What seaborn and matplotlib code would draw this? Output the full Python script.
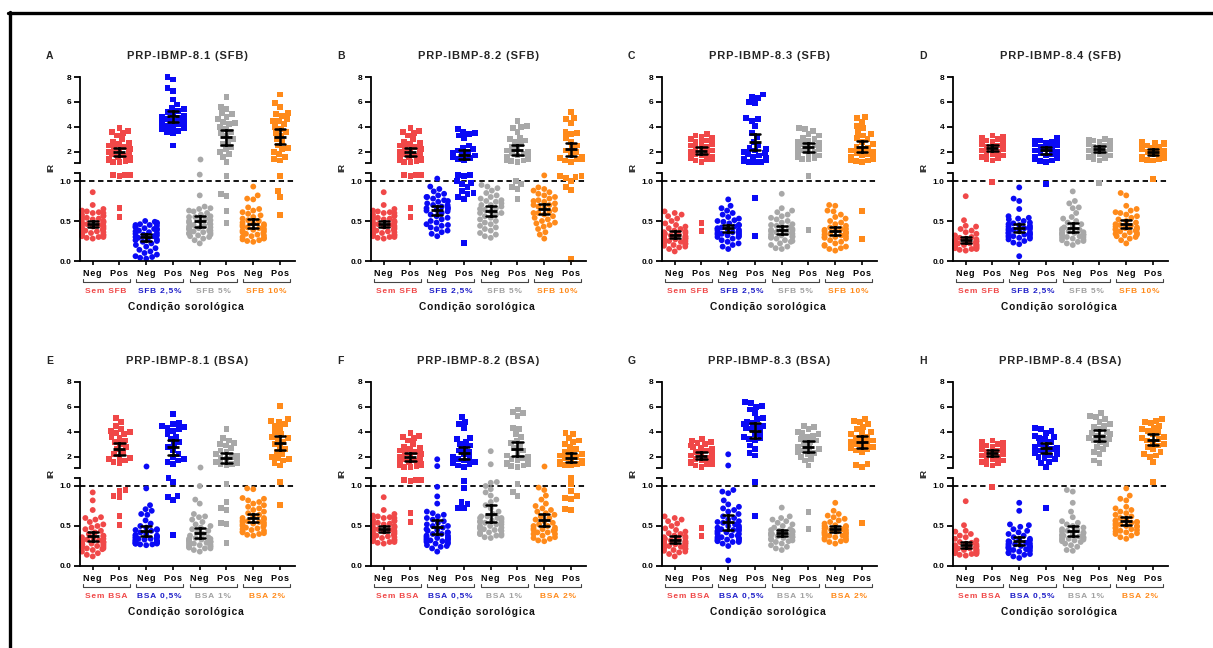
import warnings
warnings.filterwarnings('ignore')
import numpy as np
import pandas as pd
import matplotlib
matplotlib.use('Agg')
import matplotlib.pyplot as plt
from matplotlib.lines import Line2D
import seaborn as sns

sns.set_theme(style='white')
plt.rcParams['font.family'] = ['Liberation Sans', 'DejaVu Sans']
plt.rcParams['font.weight'] = 'bold'

# ---------------- data (IR values) ----------------
# shared control groups ("Sem SFB" / "Sem BSA")
SEM_81_NEG = [0.86, 0.70, 0.65, 0.63, 0.62, 0.61, 0.60, 0.58, 0.57, 0.55, 0.54, 0.53, 0.52, 0.50, 0.49,
              0.48, 0.47, 0.46, 0.45, 0.44, 0.43, 0.42, 0.41, 0.40, 0.39, 0.38, 0.37, 0.36, 0.35, 0.34,
              0.33, 0.32, 0.31, 0.30, 0.29, 0.28, 0.30, 0.33, 0.36, 0.40, 0.44, 0.48, 0.52, 0.56, 0.60]
SEM_81_POS = [3.9, 3.7, 3.6, 3.5, 3.3, 3.0, 2.8, 2.7, 2.6, 2.5, 2.4, 2.3, 2.2, 2.1, 2.0, 1.9, 1.8, 1.7,
              1.6, 1.5, 1.45, 1.4, 1.35, 1.3, 1.25, 1.2, 1.15, 1.08, 1.07, 1.06, 1.08, 0.66, 0.55]
SEM_83_NEG = [0.62, 0.60, 0.58, 0.56, 0.53, 0.50, 0.47, 0.45, 0.43, 0.41, 0.40, 0.38, 0.37, 0.36, 0.35,
              0.34, 0.33, 0.32, 0.31, 0.30, 0.29, 0.28, 0.27, 0.26, 0.25, 0.24, 0.23, 0.22, 0.21, 0.20,
              0.19, 0.18, 0.17, 0.15, 0.12, 0.30, 0.28, 0.25, 0.33, 0.27, 0.22]
SEM_83_POS = [3.4, 3.3, 3.2, 3.1, 3.0, 2.9, 2.8, 2.7, 2.6, 2.5, 2.4, 2.3, 2.2, 2.1, 2.0, 1.9, 1.8, 1.7,
              1.6, 1.55, 1.5, 1.45, 1.4, 1.3, 1.2, 0.48, 0.38]
SEM_84_NEG = [0.81, 0.51, 0.44, 0.43, 0.40, 0.38, 0.36, 0.34, 0.32, 0.30, 0.29, 0.28, 0.27, 0.26, 0.25,
              0.24, 0.23, 0.22, 0.21, 0.21, 0.20, 0.20, 0.19, 0.19, 0.18, 0.18, 0.17, 0.17, 0.16, 0.16,
              0.15, 0.15, 0.14, 0.13, 0.22, 0.24, 0.20, 0.18, 0.25]
SEM_84_POS = [3.3, 3.2, 3.1, 3.0, 2.95, 2.9, 2.8, 2.7, 2.6, 2.5, 2.4, 2.3, 2.2, 2.1, 2.0, 1.9, 1.8, 1.7,
              1.6, 1.5, 1.4, 1.3, 2.8, 2.9, 0.99]
SEM_E_NEG = [0.92, 0.82, 0.70, 0.61, 0.60, 0.58, 0.55, 0.52, 0.50, 0.48, 0.46, 0.44, 0.42, 0.40, 0.38,
             0.37, 0.36, 0.35, 0.34, 0.33, 0.32, 0.31, 0.30, 0.29, 0.28, 0.27, 0.26, 0.25, 0.24, 0.23,
             0.22, 0.21, 0.20, 0.18, 0.16, 0.14, 0.12, 0.30, 0.28, 0.25, 0.22, 0.33]
SEM_E_POS = [5.1, 4.8, 4.5, 4.2, 4.1, 4.0, 3.9, 3.8, 3.6, 3.5, 3.3, 3.2, 3.0, 2.8, 2.6, 2.4, 2.2, 2.0,
             1.9, 1.8, 1.7, 1.6, 1.5, 0.95, 0.94, 0.88, 0.86, 0.63, 0.51]

# A  PRP-IBMP-8.1 (SFB)
A_25_NEG = [0.50, 0.49, 0.48, 0.47, 0.46, 0.45, 0.44, 0.43, 0.42, 0.41, 0.40, 0.39, 0.38, 0.37, 0.36,
            0.35, 0.34, 0.33, 0.32, 0.31, 0.30, 0.29, 0.28, 0.27, 0.26, 0.25, 0.24, 0.22, 0.20, 0.18,
            0.16, 0.14, 0.12, 0.10, 0.08, 0.06, 0.05, 0.04, 0.03, 0.45, 0.40]
A_25_POS = [8.0, 7.8, 7.1, 6.9, 6.2, 5.8, 5.5, 5.4, 5.3, 5.2, 5.0, 4.9, 4.8, 4.7, 4.6, 4.5, 4.4, 4.3,
            4.2, 4.1, 4.0, 3.9, 3.8, 3.7, 3.6, 3.5, 4.2, 4.4, 4.0, 3.9, 2.5]
A_5_NEG = [1.45, 1.08, 0.82, 0.68, 0.66, 0.65, 0.63, 0.62, 0.60, 0.58, 0.56, 0.55, 0.53, 0.51, 0.50,
           0.48, 0.47, 0.46, 0.45, 0.44, 0.42, 0.41, 0.40, 0.38, 0.37, 0.36, 0.35, 0.34, 0.33, 0.32,
           0.31, 0.30, 0.28, 0.26, 0.22, 0.40, 0.43, 0.50, 0.55, 0.38, 0.35]
A_5_POS = [6.4, 5.6, 5.4, 5.1, 5.0, 4.8, 4.6, 4.4, 4.3, 4.2, 4.0, 3.8, 3.6, 3.5, 3.3, 3.0, 2.8, 2.6,
           2.4, 2.2, 2.0, 1.8, 1.6, 1.2, 1.06, 0.84, 0.81, 0.62, 0.48]
A_10_NEG = [0.93, 0.82, 0.78, 0.77, 0.67, 0.65, 0.63, 0.61, 0.59, 0.57, 0.55, 0.53, 0.51, 0.50, 0.48,
            0.47, 0.46, 0.45, 0.44, 0.43, 0.42, 0.41, 0.40, 0.39, 0.38, 0.37, 0.36, 0.35, 0.34, 0.33,
            0.32, 0.31, 0.30, 0.29, 0.28, 0.27, 0.26, 0.25, 0.24]
A_10_POS = [6.6, 5.9, 5.6, 5.1, 5.0, 4.9, 4.6, 4.5, 4.5, 4.2, 4.0, 3.8, 3.6, 3.5, 3.3, 3.0, 2.8, 2.5,
            2.3, 2.2, 2.0, 1.8, 1.6, 1.4, 1.3, 1.06, 0.87, 0.80, 0.58]

# B  PRP-IBMP-8.2 (SFB)
B_25_NEG = [1.03, 0.93, 0.90, 0.87, 0.84, 0.82, 0.80, 0.78, 0.76, 0.74, 0.72, 0.70, 0.68, 0.67, 0.66,
            0.65, 0.64, 0.63, 0.62, 0.60, 0.58, 0.56, 0.54, 0.52, 0.50, 0.48, 0.46, 0.44, 0.42, 0.40,
            0.38, 0.36, 0.34, 0.31, 0.70, 0.75, 0.80, 0.45]
B_25_POS = [3.8, 3.6, 3.5, 3.4, 3.3, 3.1, 2.5, 2.3, 2.2, 2.1, 2.0, 1.9, 1.8, 1.7, 1.6, 1.5, 1.4, 1.35,
            1.08, 1.07, 1.06, 1.0, 0.98, 0.96, 0.92, 0.88, 0.85, 0.84, 0.80, 0.78, 0.22]
B_5_NEG = [0.95, 0.93, 0.91, 0.88, 0.85, 0.82, 0.80, 0.78, 0.76, 0.74, 0.72, 0.70, 0.68, 0.66, 0.64,
           0.62, 0.60, 0.58, 0.56, 0.54, 0.52, 0.50, 0.48, 0.46, 0.44, 0.42, 0.40, 0.38, 0.35, 0.33,
           0.31, 0.29, 0.60, 0.65, 0.70, 0.75]
B_5_POS = [4.5, 4.1, 4.0, 3.9, 3.6, 3.1, 3.0, 2.9, 2.8, 2.6, 2.4, 2.2, 2.1, 2.0, 1.9, 1.8, 1.7, 1.6,
           1.5, 1.45, 1.4, 1.35, 1.3, 1.25, 1.2, 1.0, 0.96, 0.93, 0.90, 0.77]
B_10_NEG = [1.07, 0.92, 0.90, 0.88, 0.86, 0.84, 0.82, 0.80, 0.78, 0.76, 0.74, 0.72, 0.70, 0.68, 0.66,
            0.64, 0.62, 0.60, 0.58, 0.56, 0.54, 0.52, 0.50, 0.48, 0.47, 0.45, 0.43, 0.40, 0.36, 0.33,
            0.28, 0.75, 0.70, 0.65, 0.60]
B_10_POS = [5.2, 4.7, 4.6, 4.3, 3.6, 3.5, 3.4, 3.1, 2.8, 2.5, 2.3, 2.1, 2.0, 1.8, 1.6, 1.5, 1.45, 1.4,
            1.3, 1.2, 1.06, 1.06, 1.05, 1.04, 1.0, 0.93, 0.89, 0.02]

# C  PRP-IBMP-8.3 (SFB)
C_25_NEG = [0.77, 0.69, 0.66, 0.63, 0.60, 0.58, 0.55, 0.53, 0.51, 0.49, 0.47, 0.45, 0.43, 0.42, 0.41,
            0.40, 0.39, 0.38, 0.37, 0.36, 0.35, 0.34, 0.33, 0.32, 0.31, 0.30, 0.28, 0.26, 0.24, 0.22,
            0.20, 0.18, 0.15, 0.35, 0.40, 0.45, 0.50, 0.30, 0.33]
C_25_POS = [6.6, 6.4, 6.3, 6.0, 5.9, 4.7, 4.6, 4.5, 4.1, 3.5, 3.2, 2.8, 2.5, 2.3, 2.2, 2.1, 2.0, 1.9,
            1.8, 1.7, 1.6, 1.5, 1.45, 1.4, 1.35, 1.3, 1.25, 1.2, 1.2, 1.15, 0.79, 0.31]
C_5_NEG = [0.84, 0.66, 0.63, 0.61, 0.58, 0.56, 0.54, 0.52, 0.50, 0.48, 0.46, 0.44, 0.42, 0.40, 0.39,
           0.38, 0.37, 0.36, 0.35, 0.34, 0.33, 0.32, 0.31, 0.30, 0.29, 0.28, 0.26, 0.24, 0.22, 0.20,
           0.18, 0.16, 0.15, 0.40, 0.45, 0.30, 0.25]
C_5_POS = [3.9, 3.8, 3.7, 3.4, 3.3, 3.1, 3.0, 2.9, 2.8, 2.7, 2.6, 2.5, 2.4, 2.3, 2.2, 2.1, 2.0, 1.9,
           1.8, 1.7, 1.6, 1.5, 1.45, 1.4, 1.06, 0.39]
C_10_NEG = [0.70, 0.69, 0.63, 0.62, 0.58, 0.55, 0.53, 0.50, 0.48, 0.46, 0.44, 0.42, 0.40, 0.39, 0.38,
            0.37, 0.36, 0.35, 0.34, 0.33, 0.32, 0.31, 0.30, 0.29, 0.28, 0.26, 0.24, 0.22, 0.20, 0.19,
            0.18, 0.16, 0.15, 0.13, 0.30, 0.35, 0.40]
C_10_POS = [4.8, 4.7, 4.4, 4.1, 3.9, 3.6, 3.4, 3.3, 3.1, 3.0, 2.8, 2.6, 2.4, 2.3, 2.2, 2.1, 2.0, 1.9,
            1.8, 1.7, 1.6, 1.5, 1.45, 1.4, 1.35, 1.3, 1.25, 1.2, 0.62, 0.28]

# D  PRP-IBMP-8.4 (SFB)
D_25_NEG = [0.92, 0.78, 0.75, 0.65, 0.56, 0.54, 0.53, 0.52, 0.50, 0.48, 0.47, 0.46, 0.45, 0.44, 0.43,
            0.42, 0.41, 0.40, 0.39, 0.38, 0.37, 0.36, 0.35, 0.34, 0.33, 0.32, 0.31, 0.30, 0.29, 0.28,
            0.27, 0.25, 0.23, 0.21, 0.06, 0.35, 0.40, 0.33, 0.30]
D_25_POS = [3.1, 3.0, 2.9, 2.8, 2.7, 2.6, 2.5, 2.4, 2.3, 2.2, 2.1, 2.0, 1.9, 1.8, 1.7, 1.6, 1.5, 1.4,
            1.3, 1.25, 1.2, 2.9, 2.8, 0.96]
D_5_NEG = [0.87, 0.75, 0.72, 0.67, 0.66, 0.60, 0.55, 0.53, 0.50, 0.48, 0.46, 0.44, 0.42, 0.40, 0.39,
           0.38, 0.37, 0.36, 0.35, 0.34, 0.33, 0.32, 0.31, 0.30, 0.29, 0.28, 0.27, 0.26, 0.25, 0.24,
           0.22, 0.20, 0.30, 0.35, 0.33]
D_5_POS = [3.0, 2.95, 2.9, 2.85, 2.8, 2.7, 2.6, 2.5, 2.4, 2.3, 2.2, 2.1, 2.0, 1.9, 1.8, 1.7, 1.6, 1.5,
           1.4, 1.3, 2.9, 2.8, 0.97]
D_10_NEG = [0.85, 0.82, 0.69, 0.65, 0.63, 0.61, 0.60, 0.58, 0.56, 0.54, 0.52, 0.50, 0.48, 0.46, 0.44,
            0.43, 0.42, 0.41, 0.40, 0.39, 0.38, 0.37, 0.36, 0.35, 0.34, 0.33, 0.32, 0.31, 0.30, 0.28,
            0.26, 0.22, 0.40, 0.45]
D_10_POS = [2.8, 2.75, 2.7, 2.6, 2.5, 2.4, 2.3, 2.2, 2.1, 2.0, 1.9, 1.8, 1.7, 1.6, 1.5, 1.45, 1.4, 1.35,
            1.3, 2.6, 1.5, 1.03]

# E  PRP-IBMP-8.1 (BSA)
E_05_NEG = [1.29, 0.97, 0.76, 0.71, 0.69, 0.65, 0.64, 0.57, 0.53, 0.50, 0.48, 0.46, 0.45, 0.44, 0.42,
            0.40, 0.39, 0.38, 0.37, 0.36, 0.35, 0.34, 0.33, 0.32, 0.31, 0.30, 0.29, 0.28, 0.27, 0.26,
            0.33, 0.30, 0.28, 0.35, 0.45, 0.31, 0.29, 0.27, 0.32, 0.34, 0.36, 0.38, 0.30, 0.28]
E_05_POS = [5.4, 4.7, 4.6, 4.5, 4.4, 4.3, 4.2, 4.1, 3.8, 3.6, 3.4, 3.2, 3.0, 2.8, 2.5, 2.2, 2.0, 1.8,
            1.7, 1.6, 1.4, 1.10, 1.05, 0.87, 0.86, 0.82, 0.39]
E_1_NEG = [1.15, 1.0, 0.83, 0.78, 0.65, 0.62, 0.61, 0.58, 0.55, 0.52, 0.50, 0.48, 0.46, 0.44, 0.42,
           0.40, 0.38, 0.36, 0.35, 0.34, 0.33, 0.32, 0.31, 0.30, 0.29, 0.28, 0.27, 0.26, 0.25, 0.24,
           0.23, 0.22, 0.20, 0.18, 0.30, 0.28, 0.26, 0.24, 0.32, 0.34, 0.30, 0.22]
E_1_POS = [4.2, 3.5, 3.3, 3.1, 3.0, 2.9, 2.7, 2.5, 2.4, 2.2, 2.1, 2.0, 1.9, 1.8, 1.7, 1.6, 1.5, 1.45,
           1.4, 1.3, 1.02, 0.80, 0.73, 0.70, 0.54, 0.52, 0.29]
E_2_NEG = [0.97, 0.96, 0.85, 0.84, 0.82, 0.80, 0.78, 0.76, 0.74, 0.72, 0.70, 0.68, 0.66, 0.64, 0.62,
           0.60, 0.58, 0.57, 0.56, 0.55, 0.54, 0.53, 0.52, 0.51, 0.50, 0.49, 0.48, 0.47, 0.46, 0.45,
           0.44, 0.43, 0.42, 0.41, 0.40, 0.39, 0.38, 0.55, 0.60]
E_2_POS = [6.1, 5.0, 4.9, 4.8, 4.6, 4.5, 4.3, 4.0, 3.8, 3.6, 3.5, 3.4, 3.2, 3.0, 2.8, 2.6, 2.4, 2.2,
           2.0, 1.9, 1.8, 1.7, 1.5, 1.3, 1.05, 0.76]

# F  PRP-IBMP-8.2 (BSA)
F_05_NEG = [1.8, 1.25, 0.99, 0.87, 0.78, 0.68, 0.66, 0.64, 0.62, 0.60, 0.58, 0.56, 0.54, 0.52, 0.50,
            0.48, 0.46, 0.44, 0.42, 0.40, 0.38, 0.36, 0.35, 0.34, 0.33, 0.32, 0.31, 0.30, 0.28, 0.26,
            0.24, 0.22, 0.18, 0.40, 0.45, 0.50, 0.30, 0.32, 0.34, 0.36, 0.38, 0.28, 0.42, 0.25]
F_05_POS = [5.2, 4.8, 4.6, 4.3, 3.5, 3.4, 3.2, 3.0, 2.9, 2.7, 2.5, 2.4, 2.2, 2.0, 1.9, 1.8, 1.7, 1.6,
            1.5, 1.4, 1.3, 1.2, 1.06, 0.98, 0.80, 0.78, 0.73, 0.72]
F_1_NEG = [2.45, 1.4, 1.05, 1.04, 1.0, 0.96, 0.92, 0.88, 0.83, 0.80, 0.76, 0.72, 0.68, 0.65, 0.62,
           0.60, 0.58, 0.56, 0.54, 0.52, 0.50, 0.48, 0.46, 0.44, 0.42, 0.40, 0.38, 0.36, 0.35, 0.55,
           0.60, 0.38, 0.40, 0.42, 0.45, 0.47, 0.50, 0.52, 0.55, 0.57, 0.60, 0.62, 0.45, 0.48, 0.40]
F_1_POS = [5.8, 5.6, 5.5, 5.3, 4.3, 4.2, 3.8, 3.6, 3.3, 3.1, 2.9, 2.7, 2.5, 2.3, 2.1, 2.0, 1.9, 1.8,
           1.7, 1.6, 1.5, 1.45, 1.4, 1.3, 1.25, 1.2, 1.03, 0.93, 0.88]
F_2_NEG = [1.25, 0.98, 0.95, 0.88, 0.83, 0.78, 0.75, 0.72, 0.70, 0.68, 0.66, 0.64, 0.62, 0.60, 0.58,
           0.56, 0.54, 0.52, 0.50, 0.48, 0.47, 0.46, 0.45, 0.44, 0.42, 0.40, 0.38, 0.36, 0.34, 0.32,
           0.31, 0.50, 0.45, 0.40, 0.35, 0.42]
F_2_POS = [3.9, 3.8, 3.5, 3.3, 3.2, 3.0, 2.8, 2.6, 2.4, 2.3, 2.2, 2.1, 2.0, 1.9, 1.8, 1.7, 1.6, 1.5,
           1.45, 1.4, 1.35, 1.3, 1.1, 1.02, 0.94, 0.87, 0.85, 0.84, 0.71, 0.70]

# G  PRP-IBMP-8.3 (BSA)
G_05_NEG = [2.2, 1.3, 0.95, 0.93, 0.91, 0.82, 0.77, 0.74, 0.72, 0.70, 0.68, 0.65, 0.62, 0.60, 0.58,
            0.56, 0.54, 0.52, 0.50, 0.48, 0.46, 0.44, 0.42, 0.40, 0.38, 0.36, 0.34, 0.32, 0.31, 0.30,
            0.28, 0.25, 0.07, 0.45, 0.50, 0.55, 0.30, 0.32, 0.34, 0.36, 0.38, 0.40, 0.42, 0.44, 0.46,
            0.48, 0.35, 0.33]
G_05_POS = [6.4, 6.3, 6.1, 6.0, 5.8, 5.5, 5.1, 5.0, 4.8, 4.7, 4.6, 4.5, 4.4, 4.3, 4.2, 4.0, 3.8, 3.6,
            3.5, 3.4, 3.3, 2.9, 2.6, 2.3, 2.1, 1.05, 0.62]
G_1_NEG = [0.73, 0.62, 0.60, 0.58, 0.56, 0.54, 0.52, 0.50, 0.48, 0.46, 0.45, 0.44, 0.43, 0.42, 0.41,
           0.40, 0.39, 0.38, 0.37, 0.36, 0.35, 0.34, 0.33, 0.32, 0.31, 0.30, 0.28, 0.26, 0.24, 0.22,
           0.20, 0.40, 0.38, 0.42, 0.36, 0.44]
G_1_POS = [4.5, 4.4, 4.2, 4.0, 3.9, 3.8, 3.7, 3.6, 3.4, 3.3, 3.2, 3.0, 2.8, 2.7, 2.6, 2.5, 2.4, 2.3,
           2.2, 2.0, 1.8, 1.7, 1.3, 0.68, 0.46]
G_2_NEG = [0.79, 0.69, 0.65, 0.63, 0.61, 0.59, 0.57, 0.55, 0.53, 0.51, 0.50, 0.49, 0.48, 0.47, 0.46,
           0.45, 0.44, 0.43, 0.42, 0.41, 0.40, 0.39, 0.38, 0.37, 0.36, 0.35, 0.34, 0.33, 0.32, 0.31,
           0.30, 0.28, 0.45, 0.50, 0.42, 0.38]
G_2_POS = [5.0, 4.9, 4.8, 4.6, 4.4, 4.2, 4.0, 3.9, 3.8, 3.6, 3.5, 3.4, 3.3, 3.2, 3.1, 3.0, 2.9, 2.8,
           2.7, 2.6, 2.5, 2.4, 1.4, 1.35, 1.2, 0.54]

# H  PRP-IBMP-8.4 (BSA)
H_05_NEG = [0.79, 0.69, 0.52, 0.51, 0.49, 0.46, 0.44, 0.42, 0.40, 0.38, 0.36, 0.34, 0.33, 0.32, 0.31,
            0.30, 0.29, 0.28, 0.27, 0.26, 0.25, 0.24, 0.23, 0.22, 0.21, 0.20, 0.19, 0.18, 0.17, 0.16,
            0.15, 0.14, 0.12, 0.10, 0.25, 0.22, 0.28, 0.24]
H_05_POS = [4.3, 4.2, 4.1, 3.9, 3.7, 3.6, 3.5, 3.4, 3.2, 3.0, 2.9, 2.8, 2.7, 2.6, 2.5, 2.4, 2.3, 2.2,
            2.1, 2.0, 1.9, 1.8, 1.6, 1.5, 1.2, 0.73]
H_1_NEG = [0.95, 0.93, 0.79, 0.68, 0.61, 0.56, 0.54, 0.52, 0.50, 0.48, 0.46, 0.45, 0.44, 0.43, 0.42,
           0.41, 0.40, 0.39, 0.38, 0.37, 0.36, 0.35, 0.34, 0.33, 0.32, 0.31, 0.30, 0.28, 0.26, 0.24,
           0.20, 0.19, 0.35, 0.38, 0.33]
H_1_POS = [5.5, 5.3, 5.2, 5.0, 4.8, 4.6, 4.5, 4.4, 4.2, 4.0, 3.9, 3.8, 3.7, 3.6, 3.5, 3.4, 3.3, 3.2,
           3.0, 2.8, 2.6, 2.4, 2.2, 1.7, 1.5]
H_2_NEG = [0.97, 0.88, 0.84, 0.82, 0.74, 0.72, 0.70, 0.68, 0.66, 0.64, 0.62, 0.60, 0.58, 0.57, 0.56,
           0.55, 0.54, 0.53, 0.52, 0.51, 0.50, 0.49, 0.48, 0.47, 0.46, 0.45, 0.44, 0.43, 0.42, 0.41,
           0.40, 0.38, 0.36, 0.34, 0.50, 0.55]
H_2_POS = [5.0, 4.9, 4.8, 4.7, 4.5, 4.3, 4.2, 4.1, 4.0, 3.8, 3.6, 3.5, 3.4, 3.3, 3.2, 3.0, 2.9, 2.8,
           2.6, 2.4, 2.2, 2.1, 2.0, 1.6, 1.05]

LETTERS = ['A', 'B', 'C', 'D', 'E', 'F', 'G', 'H']
TITLES = ['PRP-IBMP-8.1 (SFB)', 'PRP-IBMP-8.2 (SFB)', 'PRP-IBMP-8.3 (SFB)', 'PRP-IBMP-8.4 (SFB)',
          'PRP-IBMP-8.1 (BSA)', 'PRP-IBMP-8.2 (BSA)', 'PRP-IBMP-8.3 (BSA)', 'PRP-IBMP-8.4 (BSA)']
GROUPS_SFB = ['Sem SFB', 'SFB 2,5%', 'SFB 5%', 'SFB 10%']
GROUPS_BSA = ['Sem BSA', 'BSA 0,5%', 'BSA 1%', 'BSA 2%']
STATUS = ['Neg', 'Pos']
XLABEL = 'Condição sorológica'
YLABEL = 'IR'

NEG = [[SEM_81_NEG, A_25_NEG, A_5_NEG, A_10_NEG], [SEM_81_NEG, B_25_NEG, B_5_NEG, B_10_NEG],
       [SEM_83_NEG, C_25_NEG, C_5_NEG, C_10_NEG], [SEM_84_NEG, D_25_NEG, D_5_NEG, D_10_NEG],
       [SEM_E_NEG, E_05_NEG, E_1_NEG, E_2_NEG], [SEM_81_NEG, F_05_NEG, F_1_NEG, F_2_NEG],
       [SEM_83_NEG, G_05_NEG, G_1_NEG, G_2_NEG], [SEM_84_NEG, H_05_NEG, H_1_NEG, H_2_NEG]]
POS = [[SEM_81_POS, A_25_POS, A_5_POS, A_10_POS], [SEM_81_POS, B_25_POS, B_5_POS, B_10_POS],
       [SEM_83_POS, C_25_POS, C_5_POS, C_10_POS], [SEM_84_POS, D_25_POS, D_5_POS, D_10_POS],
       [SEM_E_POS, E_05_POS, E_1_POS, E_2_POS], [SEM_81_POS, F_05_POS, F_1_POS, F_2_POS],
       [SEM_83_POS, G_05_POS, G_1_POS, G_2_POS], [SEM_84_POS, H_05_POS, H_1_POS, H_2_POS]]

POINT_COLORS = ['#F04848', '#0A0AF5', '#A8A8A8', '#FF8A1A']
LABEL_COLORS = ['#F04848', '#1E1EC8', '#A0A0A0', '#FF8A1A']

# ---------------- layout ----------------
W, H = 1213, 648
fig = plt.figure(figsize=(W / 100, H / 100), dpi=100)
fig.patch.set_facecolor('white')

HS = '\u200a'


def spaced(s):
    return HS.join(s)


COL_X = [80, 371, 662, 953]
ROW_OFF = [0, 305]
AX_W = 215
XLIM = (-0.475, 7.56)
BREAK = 1.1
UP_LIM = (BREAK, 8.0)
LO_LIM = (0.0, BREAK)
ORDER = [f'{g}{s}' for g in range(4) for s in STATUS]
HUE_ORDER = ['g0', 'g1', 'g2', 'g3']
PAL = dict(zip(HUE_ORDER, POINT_COLORS))

for idx in range(8):
    r, c = divmod(idx, 4)
    L = COL_X[c]
    off = ROW_OFF[r]
    groups = GROUPS_SFB if r == 0 else GROUPS_BSA

    def rect(top, bot):
        return [L / W, 1 - (bot + off) / H, AX_W / W, (bot - top) / H]

    ax_u = fig.add_axes(rect(77, 163))
    ax_l = fig.add_axes(rect(173, 261))

    rows = []
    for g in range(4):
        for s, vals in zip(STATUS, (NEG[idx][g], POS[idx][g])):
            for v in vals:
                rows.append((f'{g}{s}', f'g{g}', s, v))
    df = pd.DataFrame(rows, columns=['cat', 'grp', 'status', 'IR'])

    for ax, ylim, part in ((ax_u, UP_LIM, df[df['IR'] > BREAK]),
                           (ax_l, LO_LIM, df[df['IR'] <= BREAK])):
        for s, mk in zip(STATUS, ('o', 's')):
            sns.swarmplot(data=part[part['status'] == s], x='cat', y='IR', order=ORDER,
                          hue='grp', hue_order=HUE_ORDER, palette=PAL, marker=mk,
                          size=4.2, linewidth=0, legend=False, ax=ax, zorder=2,
                          clip_on=False)
        sns.pointplot(data=df, x='cat', y='IR', order=ORDER, errorbar=('se', 2),
                      color='black', capsize=0.38, linestyle='none', marker='_',
                      markersize=8, markeredgewidth=2.0,
                      err_kws={'linewidth': 1.8}, ax=ax, zorder=5)
        ax.set_ylim(*ylim)
        ax.set_xlim(*XLIM)
        ax.set_xlabel('')
        ax.set_ylabel('')
        ax.set_facecolor('none')
        for sp in ax.spines.values():
            sp.set_linewidth(1.3)
            sp.set_color('black')
        ax.spines['top'].set_visible(False)
        ax.spines['right'].set_visible(False)
        ax.tick_params(axis='y', left=True, length=4, width=1.3, direction='out',
                       labelsize=6, pad=2, colors='black')

    # upper part of broken axis
    ax_u.spines['bottom'].set_visible(False)
    ax_u.tick_params(axis='x', bottom=False, labelbottom=False)
    ax_u.set_yticks([BREAK, 2, 4, 6, 8])
    ax_u.set_yticklabels(['', '2', '4', '6', '8'], fontweight='bold')

    # lower part
    ax_l.set_yticks([0, 0.5, 1.0, BREAK])
    ax_l.set_yticklabels(['0.0', '0.5', '1.0', ''], fontweight='bold')
    ax_l.axhline(1.0, color='black', lw=1.3, ls=(0, (3, 2)), zorder=1)
    ax_l.set_xticks(range(8))
    ax_l.set_xticklabels([spaced(STATUS[k % 2]) for k in range(8)], fontsize=6.5,
                         fontweight='bold')
    ax_l.tick_params(axis='x', bottom=True, length=3, width=1.2, pad=3, colors='black')

    tr = ax_l.get_xaxis_transform()
    for g in range(4):
        x0, x1 = 2 * g - 0.38, 2 * g + 1.38
        ax_l.plot([x0, x0, x1, x1], [-0.205, -0.24, -0.24, -0.205], transform=tr,
                  clip_on=False, color='#444444', lw=0.8)
        ax_l.text(2 * g + 0.5, -0.35, spaced(groups[g]), transform=tr, ha='center',
                  va='center', fontsize=6, fontweight='bold', color=LABEL_COLORS[g])
    ax_l.text(3.5, -0.52, spaced(XLABEL), transform=tr, ha='center', va='center',
              fontsize=7.3, fontweight='bold', color='#111111')

    # titles, letters, y label
    fig.text((L + AX_W / 2) / W, 1 - (56 + off) / H, spaced(TITLES[idx]), ha='center',
             va='center', fontsize=8, fontweight='bold')
    fig.text((L - 34) / W, 1 - (56 + off) / H, LETTERS[idx], ha='left', va='center',
             fontsize=7.5, fontweight='bold')
    fig.text((L - 29) / W, 1 - (168 + off) / H, YLABEL, ha='center', va='center',
             rotation=90, fontsize=6.5, fontweight='bold')

# frame lines (top and left)
fig.add_artist(Line2D([8 / W, 1.0], [1 - 13 / H, 1 - 13 / H], transform=fig.transFigure,
                      color='black', lw=2.4))
fig.add_artist(Line2D([9.5 / W, 9.5 / W], [0.0, 1 - 11.5 / H], transform=fig.transFigure,
                      color='black', lw=2.4))

fig.savefig('out.png', dpi=100, facecolor='white')
